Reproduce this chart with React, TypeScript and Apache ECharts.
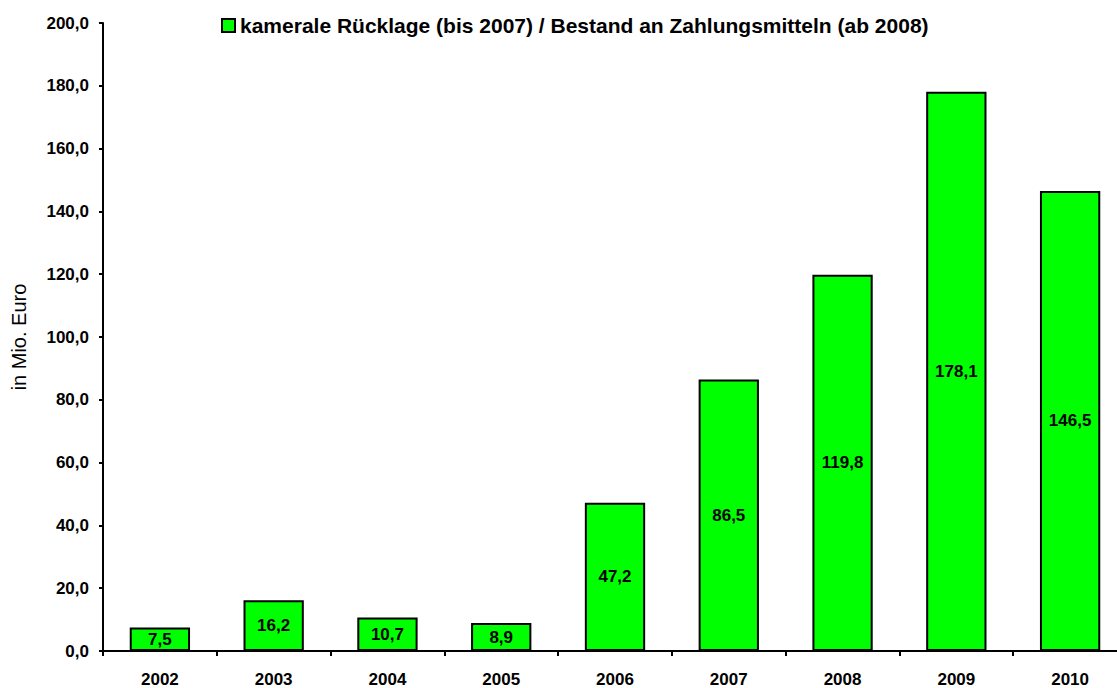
import React, { useEffect, useRef } from "react";
import * as echarts from "echarts";

const categories = ["2002", "2003", "2004", "2005", "2006", "2007", "2008", "2009", "2010"];
const values = [7.5, 16.2, 10.7, 8.9, 47.2, 86.5, 119.8, 178.1, 146.5];
const seriesName = "kamerale Rücklage (bis 2007) / Bestand an Zahlungsmitteln (ab 2008)";
const yAxisName = "in Mio. Euro";

const fmt = (v: number) => v.toFixed(1).replace(".", ",");
const FONT = "'Liberation Sans', Arial, sans-serif";

export default function App() {
  const ref = useRef<HTMLDivElement>(null);
  useEffect(() => {
    const chart = echarts.init(ref.current!, undefined, { renderer: "svg" });
    chart.setOption({
      animation: false,
      textStyle: { fontFamily: FONT },
      legend: {
        left: 216,
        top: 10,
        itemWidth: 13,
        itemHeight: 13,
        itemGap: 5,
        icon: "rect",
        textStyle: { fontFamily: FONT, fontWeight: "bold", fontSize: 21, color: "#000" },
        data: [seriesName],
      },
      grid: { left: 103, top: 23, bottom: 37, right: 0, containLabel: false, outerBoundsMode: "none" },
      xAxis: {
        type: "category",
        data: categories,
        axisLine: { lineStyle: { color: "#000", width: 2 } },
        axisTick: { show: true, length: 5, lineStyle: { color: "#000", width: 2 } },
        axisLabel: { fontFamily: FONT, fontWeight: "bold", fontSize: 17, color: "#000", margin: 20 },
      },
      yAxis: {
        type: "value",
        min: 0,
        max: 200,
        interval: 20,
        name: yAxisName,
        nameLocation: "middle",
        nameGap: 74,
        nameRotate: 90,
        nameTextStyle: { fontFamily: FONT, fontSize: 20, color: "#000" },
        axisLine: { show: true, lineStyle: { color: "#000", width: 2 } },
        axisTick: { show: true, length: 4, lineStyle: { color: "#000", width: 2 } },
        splitLine: { show: false },
        axisLabel: {
          fontFamily: FONT,
          fontWeight: "bold",
          fontSize: 17,
          color: "#000",
          margin: 14,
          formatter: (v: number) => fmt(v),
        },
      },
      series: [
        {
          name: seriesName,
          type: "bar",
          data: values,
          barWidth: "53%",
          itemStyle: { color: "#00ff00", borderColor: "#000", borderWidth: 2 },
          label: {
            show: true,
            position: "inside",
            fontFamily: FONT,
            fontWeight: "bold",
            fontSize: 17,
            color: "#000",
            formatter: (p: any) => fmt(p.value),
          },
        },
      ],
    });
    return () => chart.dispose();
  }, []);
  return (
    <div style={{ position: "absolute", left: 0, top: 0, width: 1117, height: 688, overflow: "hidden" }}>
      <div ref={ref} style={{ position: "absolute", left: 0, top: 0, width: 1127, height: 688 }} />
    </div>
  );
}
